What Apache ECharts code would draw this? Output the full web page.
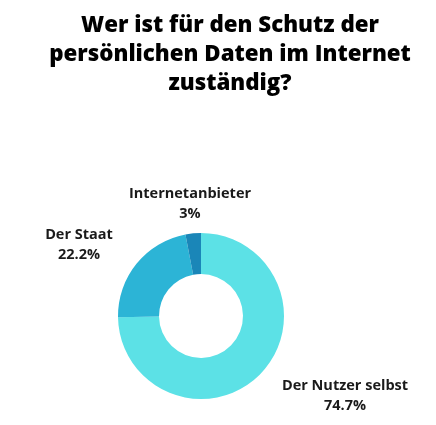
<!DOCTYPE html>
<html>
<head>
<meta charset="utf-8">
<script src="https://cdn.jsdelivr.net/npm/echarts@6/dist/echarts.min.js"></script>
<style>
  html, body { margin: 0; padding: 0; background: #fff; }
  #chart { width: 436px; height: 425px; }
</style>
</head>
<body>
<div id="chart"></div>
<script>
var categories = ['Der Nutzer selbst', 'Der Staat', 'Internetanbieter'];
var values = [74.7, 22.2, 3];
var colors = ['#5ce1e6', '#2cb4d6', '#1a86b8'];

// label anchor points (center of the text block)
var labelPos = [[345, 396], [79, 245], [190, 204]];

var myChart = echarts.init(document.getElementById('chart'));

var option = {
  backgroundColor: '#ffffff',
  title: {
    text: 'Wer ist für den Schutz der\npersönlichen Daten im Internet\nzuständig?',
    left: 225,
    textAlign: 'center',
    top: 6,
    textStyle: {
      fontFamily: 'Open Sans',
      fontWeight: 800,
      fontSize: 22.3,
      lineHeight: 29,
      color: '#000'
    }
  },
  series: [{
    type: 'pie',
    center: [201, 316],
    radius: [42, 83],
    startAngle: 90,
    clockwise: true,
    animation: false,
    silent: true,
    data: categories.map(function (name, i) {
      return { name: name, value: values[i], itemStyle: { color: colors[i] } };
    }),
    label: {
      show: true,
      formatter: function (p) { return p.name + '\n' + p.value + '%'; },
      fontFamily: 'Open Sans',
      fontWeight: 'bold',
      fontSize: 14.5,
      lineHeight: 20,
      color: '#1a1a1a',
      align: 'center',
      overflow: 'none'
    },
    labelLine: { show: false },
    labelLayout: function (params) {
      var pos = labelPos[params.dataIndex];
      return {
        x: pos[0],
        y: pos[1],
        align: 'center',
        verticalAlign: 'middle'
      };
    }
  }]
};

myChart.setOption(option);
</script>
</body>
</html>
